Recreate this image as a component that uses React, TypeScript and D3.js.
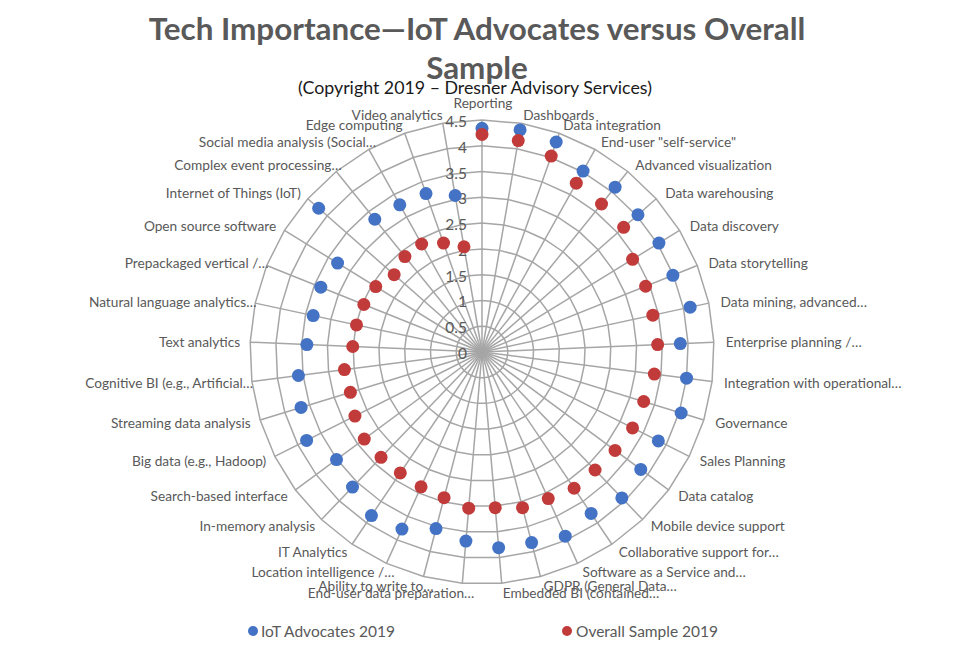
import React from "react";
import * as d3 from "d3";

const categories: string[] = [
  "Reporting", "Dashboards", "Data integration", "End-user \"self-service\"", "Advanced visualization",
  "Data warehousing", "Data discovery", "Data storytelling", "Data mining, advanced…", "Enterprise planning /…",
  "Integration with operational…", "Governance", "Sales Planning", "Data catalog", "Mobile device support",
  "Collaborative support for…", "Software as a Service and…", "GDPR (General Data…", "Embedded BI (contained…",
  "End-user data preparation…", "Ability to write to…", "Location intelligence /…", "IT Analytics",
  "In-memory analysis", "Search-based interface", "Big data (e.g., Hadoop)", "Streaming data analysis",
  "Cognitive BI (e.g., Artificial…", "Text analytics", "Natural language analytics…", "Prepackaged vertical /…",
  "Open source software", "Internet of Things (IoT)", "Complex event processing…", "Social media analysis (Social…",
  "Edge computing", "Video analytics",
];

const iotAdvocates: number[] = [
  4.34, 4.37, 4.32, 4.02, 4.11, 4.03, 4.03, 3.99, 4.13, 3.85,
  4.0, 4.04, 3.83, 3.83, 3.92, 3.78, 3.92, 3.82, 3.81, 3.68,
  3.54, 3.77, 3.83, 3.63, 3.51, 3.81, 3.67, 3.59, 3.4, 3.35,
  3.37, 3.29, 4.22, 3.31, 3.27, 3.26, 3.08,
];

const overallSample: number[] = [
  4.22, 4.16, 4.03, 3.75, 3.69, 3.66, 3.43, 3.42, 3.39, 3.41,
  3.37, 3.28, 3.27, 3.21, 3.17, 3.19, 3.12, 3.12, 3.03, 3.04,
  2.92, 2.87, 2.83, 2.83, 2.84, 2.76, 2.67, 2.69, 2.51, 2.49,
  2.47, 2.42, 2.27, 2.38, 2.4, 2.24, 2.07,
];

const tickValues: number[] = [0, 0.5, 1, 1.5, 2, 2.5, 3, 3.5, 4, 4.5];

const seriesNames: string[] = ["IoT Advocates 2019", "Overall Sample 2019"];
const seriesColors: string[] = ["#4472C4", "#C23B3B"];

const W = 958;
const H = 670;
const CX = 482;
const CY = 352;
const R = 232;
const FONT = "Lato, 'Open Sans', sans-serif";
const GRID = "#a6a6a6";
const TEXT = "#595959";

export default function App() {
  const n = categories.length;
  const r = d3.scaleLinear().domain([0, 4.5]).range([0, R]);
  const angle = d3.scaleLinear().domain([0, n]).range([0, 2 * Math.PI]);
  const pt = (i: number, v: number): [number, number] => {
    const a = angle(i);
    return [CX + r(v) * Math.sin(a), CY - r(v) * Math.cos(a)];
  };
  const ringPath = (v: number) => {
    const pts = d3.range(n).map((i) => pt(i, v));
    return d3.line().curve(d3.curveLinearClosed)(pts) as string;
  };
  const series = [iotAdvocates, overallSample];

  return (
    <svg width={W} height={H} style={{ position: "absolute", left: 0, top: 0, background: "#fff" }}
      fontFamily={FONT}>
      <rect width={W} height={H} fill="#fff" />
      <text x={477} y={40} textAnchor="middle" fontSize={31.4} fontWeight={700} fill={TEXT}>
        Tech Importance—IoT Advocates versus Overall
      </text>
      <text x={477} y={79} textAnchor="middle" fontSize={31.4} fontWeight={700} fill={TEXT}>
        Sample
      </text>
      <text x={475} y={94} textAnchor="middle" fontSize={17.8} fill="#1a1a1a">
        (Copyright 2019 – Dresner Advisory Services)
      </text>

      <g fill="none" stroke={GRID} strokeWidth={1.5}>
        {tickValues.filter((t) => t > 0).map((t) => (
          <path key={t} d={ringPath(t)} />
        ))}
        {d3.range(n).map((i) => {
          const [x, y] = pt(i, 4.5);
          return <line key={i} x1={CX} y1={CY} x2={x} y2={y} />;
        })}
      </g>

      <g fontSize={15.5} fill={TEXT} textAnchor="end">
        {tickValues.map((t) => (
          <text key={t} x={CX - 15} y={CY - r(t) + 1} dominantBaseline="central">
            {t}
          </text>
        ))}
      </g>

      <g fontSize={13.7} fill={TEXT}>
        {categories.map((c, i) => {
          const a = angle(i);
          const s = Math.sin(a);
          const co = Math.cos(a);
          if (Math.abs(s) < 0.05) {
            return (
              <text key={c} x={CX + 1} y={CY - (R + 12) - 6} textAnchor="middle" dominantBaseline="central">
                {c}
              </text>
            );
          }
          const truncated = c.endsWith("…");
          let x = CX + (R + 12) * s;
          if (s < 0) x += truncated ? 13 : 2;
          const y = CY - (R + 9) * co;
          return (
            <text key={c} x={x} y={y} textAnchor={s > 0 ? "start" : "end"} dominantBaseline="central">
              {c}
            </text>
          );
        })}
      </g>

      {series.map((vals, si) => (
        <g key={si} fill={seriesColors[si]}>
          {vals.map((v, i) => {
            const [x, y] = pt(i, v);
            return <circle key={i} cx={x} cy={y} r={6.5} />;
          })}
        </g>
      ))}

      <g fontSize={15.5} fill={TEXT}>
        <circle cx={253} cy={631} r={5} fill={seriesColors[0]} />
        <text x={261} y={631} dominantBaseline="central">{seriesNames[0]}</text>
        <circle cx={567} cy={631} r={5} fill={seriesColors[1]} />
        <text x={576} y={631} dominantBaseline="central">{seriesNames[1]}</text>
      </g>
    </svg>
  );
}
